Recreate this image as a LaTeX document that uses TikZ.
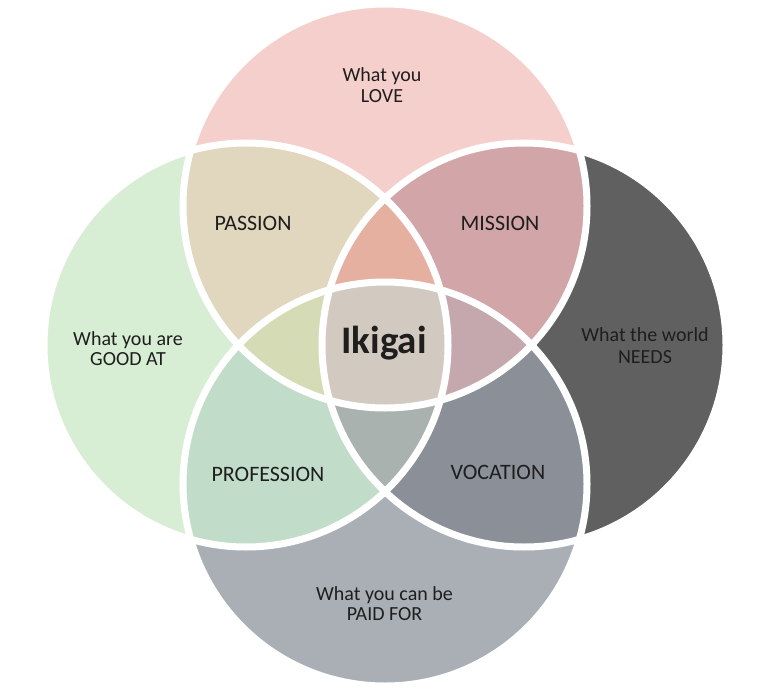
\documentclass[tikz,border=0pt]{standalone}
\usepackage{fontspec}
\setmainfont{Carlito}
\definecolor{bg}{HTML}{FFFFFF}
\definecolor{txt}{HTML}{1E1E1E}
\definecolor{love}{HTML}{F5CFCB}
\definecolor{good}{HTML}{D8EED4}
\definecolor{needs}{HTML}{606060}
\definecolor{paid}{HTML}{AAAFB6}
\definecolor{passion}{HTML}{E1D6BE}
\definecolor{mission}{HTML}{D2A5A8}
\definecolor{profession}{HTML}{C1DCC8}
\definecolor{vocation}{HTML}{8B8F97}
\definecolor{topc}{HTML}{E5B0A0}
\definecolor{leftc}{HTML}{D4DBB5}
\definecolor{rightc}{HTML}{C5A8AE}
\definecolor{bottomc}{HTML}{AAB2AF}
\definecolor{ikigai}{HTML}{D2CAC0}
\begin{document}
\begin{tikzpicture}[x=1pt,y=-1pt,
  outer/.style={font=\fontsize{20}{21}\selectfont, text=txt, anchor=base, inner sep=0pt},
  region/.style={font=\fontsize{22}{24}\selectfont, text=txt, anchor=base, inner sep=0pt},
  ring/.style={draw=white, line width=7pt}]
\fill[bg] (0,0) rectangle (768,690);
\useasboundingbox (0,0) rectangle (768,690);
\def\R{202pt}
\coordinate (cL) at (385,206);
\coordinate (cG) at (246,345);
\coordinate (cN) at (524,345);
\coordinate (cP) at (385,484);
% single circles
\fill[love] (cL) circle[radius=\R];
\fill[good] (cG) circle[radius=\R];
\fill[needs] (cN) circle[radius=\R];
\fill[paid] (cP) circle[radius=\R];
% pairs
\begin{scope}
  \clip (cL) circle[radius=\R];
  \fill[passion] (cG) circle[radius=\R];
  \fill[mission] (cN) circle[radius=\R];
\end{scope}
\begin{scope}
  \clip (cP) circle[radius=\R];
  \fill[profession] (cG) circle[radius=\R];
  \fill[vocation] (cN) circle[radius=\R];
\end{scope}
% triples
\begin{scope}
  \clip (cL) circle[radius=\R];
  \clip (cG) circle[radius=\R];
  \fill[topc] (cN) circle[radius=\R];
  \fill[leftc] (cP) circle[radius=\R];
\end{scope}
\begin{scope}
  \clip (cL) circle[radius=\R];
  \clip (cN) circle[radius=\R];
  \fill[rightc] (cP) circle[radius=\R];
\end{scope}
\begin{scope}
  \clip (cG) circle[radius=\R];
  \clip (cN) circle[radius=\R];
  \fill[bottomc] (cP) circle[radius=\R];
\end{scope}
% all four
\begin{scope}
  \clip (cL) circle[radius=\R];
  \clip (cG) circle[radius=\R];
  \clip (cN) circle[radius=\R];
  \fill[ikigai] (cP) circle[radius=\R];
\end{scope}
% white rings
\draw[ring] (cL) circle[radius=\R];
\draw[ring] (cG) circle[radius=\R];
\draw[ring] (cN) circle[radius=\R];
\draw[ring] (cP) circle[radius=\R];
% labels
\node[outer] (love1) at (382,81.7) {What you};
\node[outer] (love2) at (382,102.7) {LOVE};
\node[region] (passion) at (253,230.7) {PASSION};
\node[region] (mission) at (500,230.7) {MISSION};
\node[outer] (good1) at (128,345.7) {What you are};
\node[outer] (good2) at (128,365) {GOOD AT};
\node[font=\fontsize{39}{40}\selectfont\bfseries, text=txt, anchor=base, inner sep=0pt] (ikigai) at (384,353.3) {Ikigai};
\node[outer] (needs1) at (645,341.7) {What the world};
\node[outer] (needs2) at (645,363.3) {NEEDS};
\node[region] (profession) at (268,481) {PROFESSION};
\node[region] (vocation) at (498,479) {VOCATION};
\node[outer] (paid1) at (384.5,600) {What you can be};
\node[outer] (paid2) at (384.5,620) {PAID FOR};
\end{tikzpicture}
\end{document}
